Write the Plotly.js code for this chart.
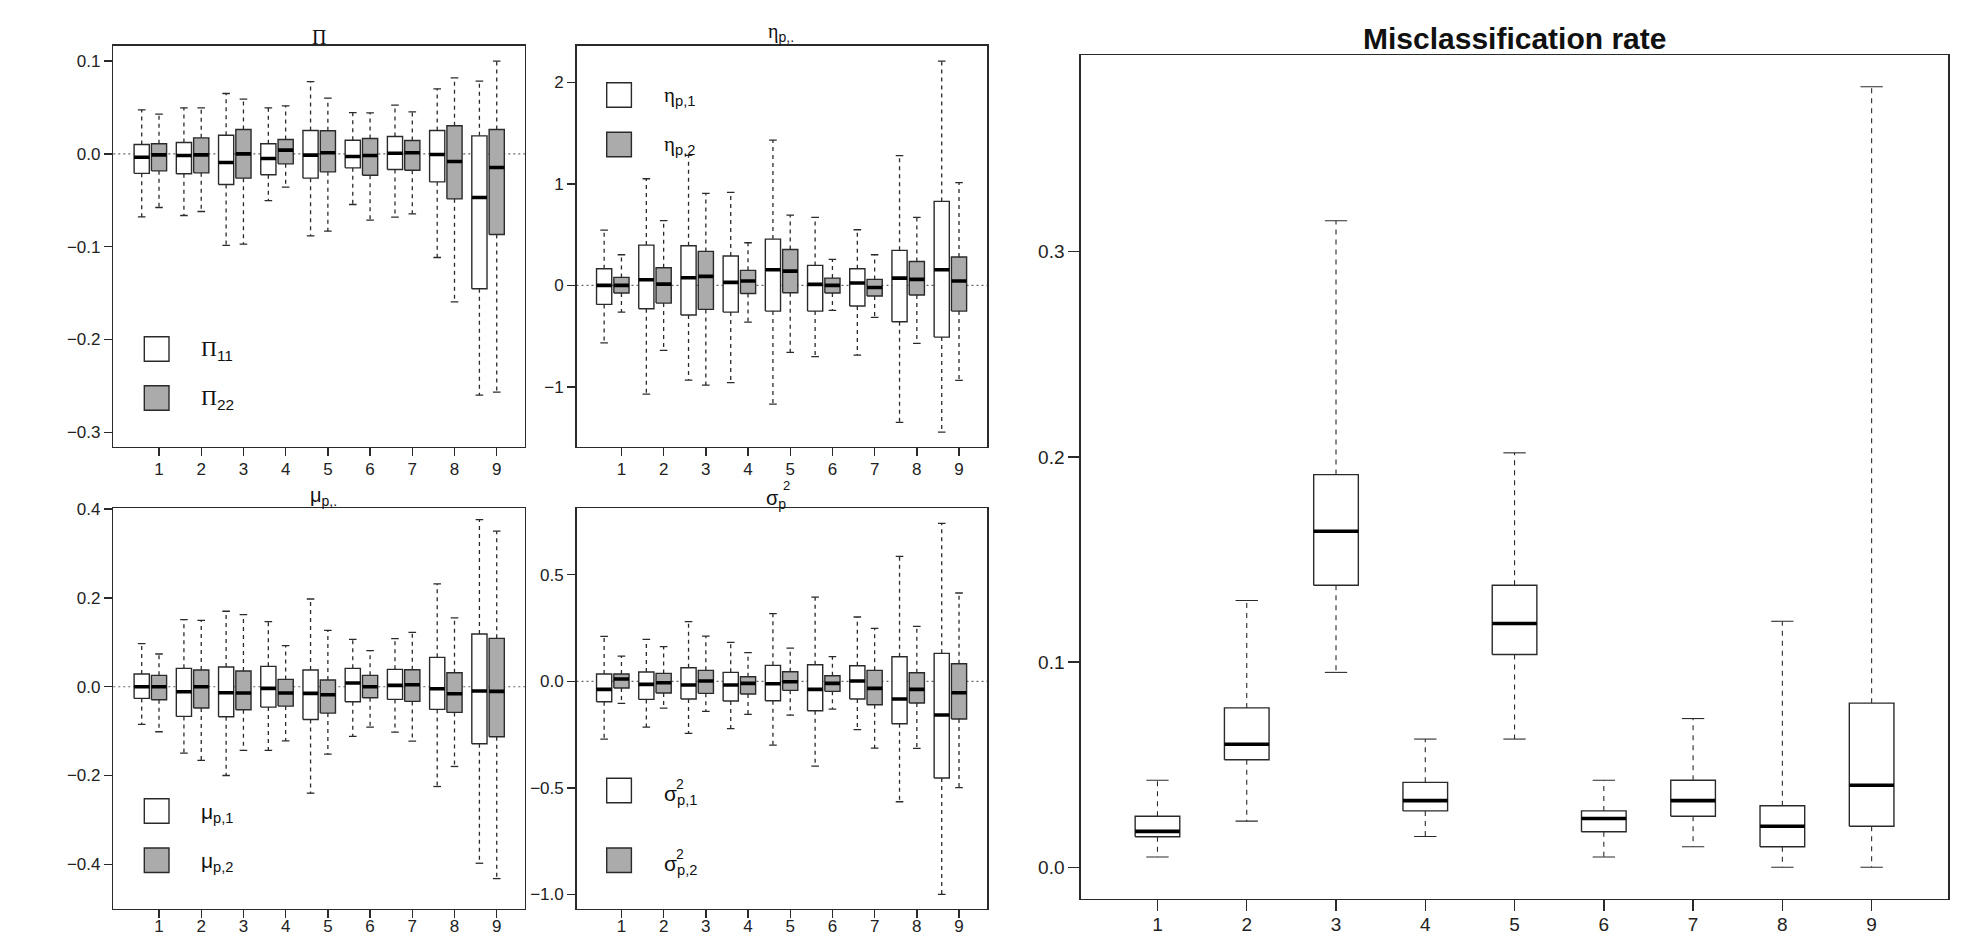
<!DOCTYPE html>
<html>
<head>
<meta charset="utf-8">
<script src="https://cdn.plot.ly/plotly-3.0.1.min.js"></script>
<style>html,body{margin:0;padding:0;background:#fff;}#chart{width:1969px;height:937px;}</style>
</head>
<body>
<div id="chart"></div>
<script>
// ---------- DATA (each entry: [lower whisker, Q1, median, Q3, upper whisker]) ----------
const groups = [1, 2, 3, 4, 5, 6, 7, 8, 9];
const tickLabels = ['1', '2', '3', '4', '5', '6', '7', '8', '9'];

const pi11 = [
  [-0.068, -0.021, -0.0036, 0.0101, 0.0474],
  [-0.0664, -0.0215, -0.0018, 0.0122, 0.0496],
  [-0.0987, -0.033, -0.0093, 0.0201, 0.065],
  [-0.0503, -0.0226, -0.005, 0.0108, 0.0496],
  [-0.0883, -0.0262, -0.0014, 0.0251, 0.0779],
  [-0.0546, -0.0151, -0.0029, 0.0147, 0.0445],
  [-0.0682, -0.0169, 0.0007, 0.0187, 0.0524],
  [-0.1117, -0.0302, -0.0007, 0.0251, 0.070],
  [-0.26, -0.1454, -0.047, 0.0194, 0.0783]
];
const pi22 = [
  [-0.0578, -0.0183, -0.0011, 0.0108, 0.0427],
  [-0.0621, -0.0205, -0.0011, 0.0172, 0.0496],
  [-0.0973, -0.0262, 0.0, 0.0262, 0.0589],
  [-0.0359, -0.0108, 0.004, 0.0154, 0.0517],
  [-0.0833, -0.0194, 0.0011, 0.0248, 0.060],
  [-0.0715, -0.023, -0.0018, 0.0165, 0.0442],
  [-0.0646, -0.0176, 0.0011, 0.0144, 0.0452],
  [-0.1594, -0.0485, -0.0083, 0.0302, 0.0819],
  [-0.2567, -0.0869, -0.0147, 0.0262, 0.0998]
];
const eta1 = [
  [-0.565, -0.187, 0.0, 0.164, 0.545],
  [-1.07, -0.23, 0.056, 0.397, 1.05],
  [-0.932, -0.292, 0.075, 0.39, 1.28],
  [-0.958, -0.263, 0.03, 0.289, 0.916],
  [-1.168, -0.253, 0.154, 0.456, 1.431],
  [-0.702, -0.253, 0.01, 0.197, 0.67],
  [-0.686, -0.203, 0.023, 0.164, 0.548],
  [-1.349, -0.358, 0.072, 0.345, 1.277],
  [-1.444, -0.509, 0.154, 0.827, 2.209]
];
const eta2 = [
  [-0.263, -0.075, 0.0, 0.079, 0.302],
  [-0.64, -0.174, 0.013, 0.174, 0.637],
  [-0.981, -0.236, 0.089, 0.335, 0.906],
  [-0.361, -0.079, 0.043, 0.148, 0.42],
  [-0.66, -0.072, 0.141, 0.354, 0.692],
  [-0.246, -0.075, 0.0, 0.072, 0.256],
  [-0.315, -0.105, -0.02, 0.059, 0.302],
  [-0.571, -0.095, 0.059, 0.236, 0.67],
  [-0.935, -0.253, 0.043, 0.279, 1.011]
];
const mu1 = [
  [-0.085, -0.0263, 0.0, 0.0286, 0.097],
  [-0.1496, -0.0669, -0.0113, 0.0414, 0.151],
  [-0.2, -0.0677, -0.0135, 0.0444, 0.17],
  [-0.1436, -0.0459, -0.0038, 0.0459, 0.1466],
  [-0.2398, -0.0737, -0.015, 0.0376, 0.1977],
  [-0.112, -0.0338, 0.0083, 0.0414, 0.1068],
  [-0.1023, -0.0286, 0.003, 0.0391, 0.1083],
  [-0.2248, -0.0511, -0.0045, 0.0662, 0.2316],
  [-0.3977, -0.1286, -0.0098, 0.1188, 0.3767]
];
const mu2 = [
  [-0.1015, -0.0293, 0.0, 0.0256, 0.0737],
  [-0.166, -0.0481, 0.0, 0.0376, 0.1496],
  [-0.1436, -0.0519, -0.0143, 0.0353, 0.1624],
  [-0.1218, -0.0436, -0.0143, 0.0165, 0.0925],
  [-0.1519, -0.0594, -0.018, 0.015, 0.127],
  [-0.091, -0.0248, 0.0, 0.0256, 0.0812],
  [-0.1226, -0.0331, 0.0045, 0.0383, 0.1226],
  [-0.1797, -0.0579, -0.0158, 0.0316, 0.1549],
  [-0.4323, -0.1128, -0.0105, 0.109, 0.3504]
];
const sig1 = [
  [-0.2706, -0.0954, -0.0375, 0.0344, 0.211],
  [-0.2143, -0.0845, -0.0141, 0.0438, 0.197],
  [-0.244, -0.0829, -0.0172, 0.0641, 0.28],
  [-0.2221, -0.0923, -0.0172, 0.0422, 0.183],
  [-0.2988, -0.0907, -0.011, 0.0751, 0.3175],
  [-0.3973, -0.1376, -0.0375, 0.0782, 0.3957],
  [-0.2268, -0.0829, 0.0016, 0.0735, 0.3019],
  [-0.5647, -0.1987, -0.0829, 0.1158, 0.5866],
  [-0.9995, -0.4536, -0.158, 0.1314, 0.7414]
];
const sig2 = [
  [-0.1032, -0.0313, 0.011, 0.0344, 0.1189],
  [-0.1251, -0.0547, -0.0063, 0.0375, 0.1627],
  [-0.1408, -0.0563, 0.0016, 0.0516, 0.2127],
  [-0.1549, -0.0594, -0.0094, 0.0219, 0.1345],
  [-0.158, -0.0422, -0.0016, 0.0454, 0.1564],
  [-0.1298, -0.0469, -0.0094, 0.0266, 0.1158],
  [-0.3128, -0.1095, -0.0328, 0.0516, 0.2487],
  [-0.3144, -0.1017, -0.0375, 0.0407, 0.2581],
  [-0.499, -0.1768, -0.0532, 0.0829, 0.4145]
];
const misclass = [
  [0.005, 0.0149, 0.0175, 0.0249, 0.0424],
  [0.0225, 0.0524, 0.060, 0.0777, 0.130],
  [0.095, 0.1375, 0.1638, 0.1914, 0.3151],
  [0.015, 0.0275, 0.0325, 0.0414, 0.0625],
  [0.0625, 0.1037, 0.1188, 0.1375, 0.202],
  [0.005, 0.0173, 0.0238, 0.0275, 0.0424],
  [0.010, 0.0249, 0.0325, 0.0424, 0.0725],
  [0.0, 0.010, 0.020, 0.030, 0.1199],
  [0.0, 0.020, 0.040, 0.080, 0.3804]
];

// ---------- STYLE / LAYOUT CONSTANTS ----------
const W = 1969, H = 937;
const px = v => v / W;
const py = v => 1 - v / H;
const GREY = '#ababab';
const EDGE = '#2a2a2a';
const SANS = 'Liberation Sans, Arial, sans-serif';
const SERIF = 'Liberation Serif, Times New Roman, serif';

const traces = [];
function addBoxes(stats, xa, ya, offset, width, fill, opt) {
  const wx = [], wy = [], bx = [], by = [], mx = [], my = [], cx = [], cy = [];
  stats.forEach((s, i) => {
    const c = groups[i] + offset;
    const x0 = c - width / 2, x1 = c + width / 2;
    const cw = width * opt.cap / 2;
    const [lo, q1, md, q3, hi] = s;
    wx.push(c, c, null, c, c, null); wy.push(q3, hi, null, q1, lo, null);
    cx.push(c - cw, c + cw, null, c - cw, c + cw, null); cy.push(hi, hi, null, lo, lo, null);
    bx.push(x0, x1, x1, x0, x0, null); by.push(q1, q1, q3, q3, q1, null);
    mx.push(x0, x1, null); my.push(md, md, null);
  });
  const base = {type: 'scatter', mode: 'lines', xaxis: xa, yaxis: ya, hoverinfo: 'skip', showlegend: false};
  traces.push(Object.assign({}, base, {x: wx, y: wy, line: {color: EDGE, width: opt.ww, dash: opt.dash}}));
  traces.push(Object.assign({}, base, {x: cx, y: cy, line: {color: EDGE, width: opt.ww}}));
  traces.push(Object.assign({}, base, {x: bx, y: by, fill: 'toself', fillcolor: fill, line: {color: EDGE, width: opt.bw}}));
  traces.push(Object.assign({}, base, {x: mx, y: my, line: {color: '#000', width: opt.mw}}));
}
const smallOpt = {cap: 0.5, ww: 1.3, dash: '4px,4px', bw: 1.4, mw: 3.6};
const bigOpt = {cap: 0.5, ww: 1.1, dash: '5px,5px', bw: 1.4, mw: 3.6};
const OFF = -0.41, BW = 0.36;

addBoxes(pi11, 'x', 'y', OFF, BW, '#ffffff', smallOpt);
addBoxes(pi22, 'x', 'y', 0, BW, GREY, smallOpt);
addBoxes(eta1, 'x2', 'y2', OFF, BW, '#ffffff', smallOpt);
addBoxes(eta2, 'x2', 'y2', 0, BW, GREY, smallOpt);
addBoxes(mu1, 'x3', 'y3', OFF, BW, '#ffffff', smallOpt);
addBoxes(mu2, 'x3', 'y3', 0, BW, GREY, smallOpt);
addBoxes(sig1, 'x4', 'y4', OFF, BW, '#ffffff', smallOpt);
addBoxes(sig2, 'x4', 'y4', 0, BW, GREY, smallOpt);
addBoxes(misclass, 'x5', 'y5', 0, 0.5, '#ffffff', bigOpt);

function xAxis(dom, anchor, range, fs, tl, so) {
  return {domain: dom, anchor: anchor, range: range, tickmode: 'array', tickvals: groups, ticktext: tickLabels,
    showgrid: false, zeroline: false, showline: true, mirror: true, linecolor: EDGE, linewidth: 1.4,
    ticks: 'outside', ticklen: tl, tickwidth: 1.4, tickcolor: EDGE, ticklabelstandoff: so,
    tickfont: {family: SANS, size: fs, color: '#222'}, fixedrange: true};
}
function yAxis(dom, anchor, range, vals, texts, fs, tl) {
  return {domain: dom, anchor: anchor, range: range, tickmode: 'array', tickvals: vals, ticktext: texts,
    showgrid: false, zeroline: false, showline: true, mirror: true, linecolor: EDGE, linewidth: 1.4,
    ticks: 'outside', ticklen: tl, tickwidth: 1.4, tickcolor: EDGE,
    tickfont: {family: SANS, size: fs, color: '#222'}, fixedrange: true};
}

const colL = [px(113.3), px(525)], colR = [px(576.5), px(987.3)];
const rowT = [py(446.7), py(45.7)], rowB = [py(909), py(508.3)];

const layout = {
  width: W, height: H, autosize: false,
  margin: {l: 0, r: 0, t: 0, b: 0, pad: 0},
  paper_bgcolor: '#fff', plot_bgcolor: '#fff',
  showlegend: false,
  xaxis: xAxis(colL, 'y', [-0.083, 9.67], 17, 8, -2),
  yaxis: yAxis(rowT, 'x', [-0.3155, 0.1165], [-0.3, -0.2, -0.1, 0, 0.1], ['\u22120.3', '\u22120.2', '\u22120.1', '0.0', '0.1'], 17, 8),
  xaxis2: xAxis(colR, 'y2', [-0.065, 9.67], 17, 8, -2),
  yaxis2: yAxis(rowT, 'x2', [-1.588, 2.36], [-1, 0, 1, 2], ['\u22121', '0', '1', '2'], 17, 8),
  xaxis3: xAxis(colL, 'y3', [-0.083, 9.67], 17, 8, -7),
  yaxis3: yAxis(rowB, 'x3', [-0.5008, 0.402], [-0.4, -0.2, 0, 0.2, 0.4], ['\u22120.4', '\u22120.2', '0.0', '0.2', '0.4'], 17, 8),
  xaxis4: xAxis(colR, 'y4', [-0.065, 9.67], 17, 8, -7),
  yaxis4: yAxis(rowB, 'x4', [-1.068, 0.812], [-1, -0.5, 0, 0.5], ['\u22121.0', '\u22120.5', '0.0', '0.5'], 17, 8),
  xaxis5: xAxis([px(1080.7), px(1948.4)], 'y5', [0.14, 9.86], 19, 11, -3),
  yaxis5: yAxis([py(898.7), py(55)], 'x5', [-0.0153, 0.3959], [0, 0.1, 0.2, 0.3], ['0.0', '0.1', '0.2', '0.3'], 19, 11),
  shapes: [],
  annotations: []
};

// dotted zero reference lines in the four small panels
[['x', 'y'], ['x2', 'y2'], ['x3', 'y3'], ['x4', 'y4']].forEach(([xa, ya]) => {
  layout.shapes.push({type: 'line', xref: xa + ' domain', yref: ya, x0: 0, x1: 1, y0: 0, y1: 0,
    line: {color: '#666', width: 1.1, dash: '2px,3px'}, layer: 'below'});
});

// legend keys
function key(x0, y0, fill) {
  layout.shapes.push({type: 'rect', xref: 'paper', yref: 'paper', x0: px(x0), x1: px(x0 + 24.7), y0: py(y0 + 24.5), y1: py(y0),
    fillcolor: fill, line: {color: EDGE, width: 1.4}});
}
key(144.3, 336.7, '#fff'); key(144.3, 385.7, GREY);
key(606.7, 82.7, '#fff'); key(606.7, 132.3, GREY);
key(144.3, 798.7, '#fff'); key(144.3, 848, GREY);
key(606.7, 778.3, '#fff'); key(606.7, 848, GREY);

function ann(text, x, y, size, family, xanchor, extra) {
  layout.annotations.push(Object.assign({text: text, xref: 'paper', yref: 'paper', x: px(x), y: py(y),
    xanchor: xanchor || 'left', yanchor: 'middle', showarrow: false,
    font: {family: family || SANS, size: size, color: '#111'}}, extra || {}));
}
const sp = (f, t) => '<span style="font-family:' + f + '">' + t + '</span>';

// panel titles
ann('\u03A0', 319.3, 37.5, 20, SERIF, 'center');
ann(sp(SERIF, '\u03B7') + '<sub>p,.</sub>', 781, 32, 20, SANS, 'center');
ann('\u03BC<sub>p,.</sub>', 323, 496, 20, SANS, 'center');
ann('\u03C3<sub>p</sub>', 776, 500, 20, SANS, 'center');
ann('2', 786, 485, 13, SANS, 'center');
ann('<b>Misclassification rate</b>', 1514.5, 39, 30, SANS, 'center');

// legend labels
ann(sp(SERIF, '\u03A0') + '<sub>11</sub>', 199.3, 350, 22, SANS);
ann(sp(SERIF, '\u03A0') + '<sub>22</sub>', 199.3, 399, 22, SANS);
ann(sp(SERIF, '\u03B7') + '<sub>p,1</sub>', 661.7, 96, 21, SANS);
ann(sp(SERIF, '\u03B7') + '<sub>p,2</sub>', 661.7, 145, 21, SANS);
ann('\u03BC<sub>p,1</sub>', 199.3, 813, 21, SANS);
ann('\u03BC<sub>p,2</sub>', 199.3, 862, 21, SANS);
ann('\u03C3<sub>p,1</sub>', 661.7, 795, 21, SANS);
ann('2', 673.5, 784, 14, SANS);
ann('\u03C3<sub>p,2</sub>', 661.7, 865, 21, SANS);
ann('2', 673.5, 854, 14, SANS);

Plotly.newPlot('chart', traces, layout, {displayModeBar: false, staticPlot: true});
</script>
</body>
</html>
